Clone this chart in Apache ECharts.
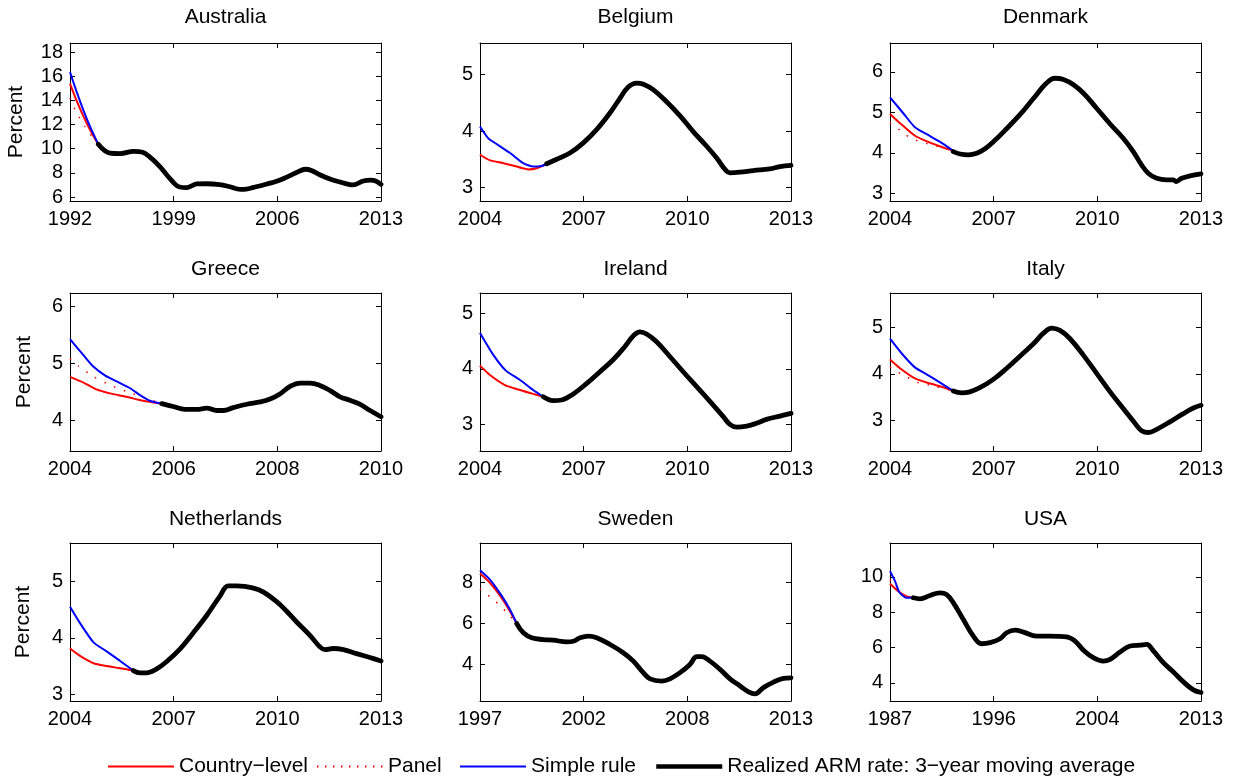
<!DOCTYPE html>
<html><head><meta charset="utf-8">
<script src="https://cdn.jsdelivr.net/npm/echarts@6/dist/echarts.min.js"></script>
<style>html,body{margin:0;padding:0;background:#fff}#c{width:1235px;height:780px}</style>
</head><body><div id="c"></div>
<script>
// ---------- DATA ----------
const countries = ['Australia','Belgium','Denmark','Greece','Ireland','Italy','Netherlands','Sweden','USA'];
const legendNames = ['Country\u2212level','Panel','Simple rule','Realized ARM rate: 3\u2212year moving average'];

const xRanges = [[1992,2013],[2004,2013],[2004,2013],[2004,2010],[2004,2013],[2004,2013],[2004,2013],[1997,2013],[1987,2013]];
const yRanges = [[5.67,18.75],[2.76,5.56],[2.81,6.71],[3.46,6.23],[2.52,5.37],[2.33,5.75],[2.88,5.68],[2.22,9.91],[2.98,11.92]];
const yTicks = [[6,8,10,12,14,16,18],[3,4,5],[3,4,5,6],[4,5,6],[3,4,5],[3,4,5],[3,4,5],[4,6,8],[4,6,8,10]];

// Australia
const ausCountry = [[1992,15.38],[1992.45,13.95],[1992.9,12.7],[1993.4,11.45],[1993.91,10.36]];
const ausPanel = [[1992,14.2],[1992.35,13.2],[1992.65,12.55],[1993.0,11.85],[1993.35,11.25],[1993.91,10.36]];
const ausSimple = [[1992,16.34],[1992.45,14.7],[1992.9,13.2],[1993.4,11.7],[1993.91,10.36]];
const ausReal = [[1993.91,10.36],[1994.7,9.64],[1995.4,9.6],[1996.3,9.78],[1996.9,9.7],[1997.4,9.3],[1998.1,8.48],[1998.75,7.52],[1999.4,6.83],[1999.9,6.78],[2000.55,7.08],[2001.2,7.1],[2002.1,7.03],[2002.8,6.85],[2003.5,6.64],[2003.9,6.66],[2004.4,6.8],[2005.3,7.08],[2006.0,7.33],[2006.6,7.63],[2007.3,8.03],[2007.9,8.3],[2008.3,8.2],[2008.9,7.82],[2009.6,7.47],[2010.2,7.25],[2010.9,7.02],[2011.1,7.0],[2011.8,7.33],[2012.3,7.4],[2012.6,7.35],[2013,7.05]];

// Belgium
const belCountry = [[2004,3.58],[2004.29,3.48],[2004.68,3.43],[2005.06,3.37],[2005.4,3.32],[2005.64,3.34],[2005.93,3.42]];
const belPanel = [[2004,3.58],[2004.29,3.48],[2004.68,3.43],[2005.06,3.37],[2005.4,3.32],[2005.64,3.34],[2005.93,3.42]];
const belSimple = [[2004,4.08],[2004.24,3.87],[2004.48,3.77],[2004.87,3.61],[2005.25,3.43],[2005.54,3.37],[2005.78,3.38],[2005.93,3.42]];
const belReal = [[2005.93,3.42],[2006.22,3.5],[2006.6,3.61],[2006.99,3.79],[2007.38,4.03],[2007.76,4.32],[2008.05,4.58],[2008.29,4.78],[2008.53,4.85],[2008.73,4.83],[2009.02,4.73],[2009.4,4.52],[2009.79,4.27],[2010.17,3.99],[2010.56,3.73],[2010.85,3.52],[2011.09,3.32],[2011.23,3.26],[2011.52,3.27],[2011.91,3.3],[2012.39,3.33],[2012.68,3.37],[2013,3.39]];

// Denmark
const denCountry = [[2004,4.96],[2004.29,4.73],[2004.72,4.42],[2005.16,4.25],[2005.54,4.13],[2005.83,4.05]];
const denPanel = [[2004,4.74],[2004.22,4.6],[2004.46,4.44],[2004.72,4.32],[2004.96,4.25],[2005.25,4.19],[2005.54,4.12],[2005.83,4.05]];
const denSimple = [[2004,5.37],[2004.39,4.97],[2004.72,4.63],[2005.06,4.46],[2005.45,4.27],[2005.83,4.05]];
const denReal = [[2005.83,4.03],[2006.03,3.97],[2006.27,3.95],[2006.51,3.99],[2006.75,4.1],[2006.99,4.27],[2007.38,4.6],[2007.76,4.94],[2008.15,5.34],[2008.53,5.72],[2008.77,5.84],[2009.02,5.81],[2009.31,5.68],[2009.6,5.47],[2009.98,5.1],[2010.37,4.71],[2010.75,4.36],[2011.04,4.03],[2011.28,3.7],[2011.48,3.49],[2011.72,3.37],[2012.0,3.33],[2012.2,3.33],[2012.28,3.29],[2012.44,3.37],[2012.68,3.43],[2013,3.48]];

// Greece
const grcCountry = [[2004,4.76],[2004.26,4.66],[2004.51,4.54],[2004.77,4.47],[2005.09,4.41],[2005.41,4.34],[2005.77,4.29]];
const grcPanel = [[2004,5.08],[2004.16,4.95],[2004.46,4.76],[2004.79,4.61],[2005.13,4.49],[2005.48,4.38],[2005.77,4.29]];
const grcSimple = [[2004,5.42],[2004.26,5.14],[2004.45,4.94],[2004.68,4.78],[2004.9,4.68],[2005.16,4.56],[2005.35,4.44],[2005.54,4.34],[2005.77,4.29]];
const grcReal = [[2005.77,4.29],[2005.99,4.24],[2006.22,4.19],[2006.44,4.19],[2006.64,4.21],[2006.83,4.17],[2006.96,4.17],[2007.15,4.22],[2007.41,4.28],[2007.67,4.32],[2007.86,4.37],[2008.05,4.46],[2008.24,4.59],[2008.44,4.65],[2008.63,4.65],[2008.82,4.61],[2009.02,4.52],[2009.21,4.41],[2009.4,4.35],[2009.59,4.28],[2009.79,4.17],[2010,4.06]];

// Ireland
const irlCountry = [[2004,4.06],[2004.29,3.89],[2004.72,3.71],[2005.16,3.62],[2005.54,3.55],[2005.83,3.5]];
const irlPanel = [[2004,4.06],[2004.29,3.89],[2004.72,3.71],[2005.16,3.62],[2005.54,3.55],[2005.83,3.5]];
const irlSimple = [[2004,4.65],[2004.39,4.25],[2004.75,3.97],[2005.16,3.8],[2005.54,3.62],[2005.83,3.5]];
const irlReal = [[2005.83,3.5],[2006.12,3.43],[2006.36,3.44],[2006.7,3.55],[2007.09,3.74],[2007.47,3.95],[2007.86,4.17],[2008.2,4.41],[2008.44,4.6],[2008.63,4.67],[2008.82,4.63],[2009.11,4.49],[2009.5,4.22],[2009.88,3.95],[2010.27,3.68],[2010.66,3.41],[2011.04,3.14],[2011.23,3.0],[2011.43,2.95],[2011.72,2.97],[2012.0,3.02],[2012.29,3.09],[2012.68,3.15],[2013,3.2]];

// Italy
const itaCountry = [[2004,4.31],[2004.29,4.12],[2004.72,3.9],[2005.16,3.79],[2005.54,3.71],[2005.83,3.63]];
const itaPanel = [[2004,4.15],[2004.24,4.03],[2004.48,3.94],[2004.72,3.83],[2005.01,3.78],[2005.35,3.72],[2005.83,3.63]];
const itaSimple = [[2004,4.76],[2004.34,4.44],[2004.72,4.14],[2005.06,3.99],[2005.45,3.81],[2005.83,3.63]];
const itaReal = [[2005.83,3.63],[2006.07,3.59],[2006.31,3.61],[2006.6,3.7],[2006.99,3.88],[2007.38,4.12],[2007.76,4.38],[2008.15,4.65],[2008.44,4.88],[2008.68,4.99],[2008.92,4.94],[2009.21,4.76],[2009.6,4.4],[2009.98,4.01],[2010.37,3.61],[2010.75,3.25],[2011.09,2.93],[2011.28,2.77],[2011.48,2.73],[2011.72,2.8],[2012.1,2.96],[2012.49,3.14],[2012.78,3.26],[2013,3.32]];

// Netherlands
const nldCountry = [[2004,3.81],[2004.29,3.68],[2004.68,3.55],[2005.06,3.5],[2005.45,3.46],[2005.83,3.42]];
const nldPanel = [[2004,3.81],[2004.29,3.68],[2004.68,3.55],[2005.06,3.5],[2005.45,3.46],[2005.83,3.42]];
const nldSimple = [[2004,4.55],[2004.29,4.26],[2004.68,3.92],[2005.06,3.76],[2005.45,3.59],[2005.83,3.42]];
const nldReal = [[2005.83,3.42],[2006.03,3.38],[2006.22,3.38],[2006.51,3.45],[2006.8,3.58],[2007.18,3.8],[2007.57,4.09],[2007.96,4.4],[2008.34,4.74],[2008.58,4.92],[2008.83,4.92],[2009.31,4.88],[2009.6,4.81],[2009.98,4.64],[2010.27,4.47],[2010.56,4.28],[2010.95,4.04],[2011.23,3.84],[2011.38,3.79],[2011.62,3.81],[2011.91,3.79],[2012.29,3.72],[2012.68,3.65],[2013,3.59]];

// Sweden
const sweCountry = [[1997,8.42],[1997.51,7.97],[1998.11,7.24],[1998.54,6.59],[1998.89,5.99]];
const swePanel = [[1997,7.68],[1997.26,7.48],[1997.65,7.19],[1998.03,6.87],[1998.4,6.51],[1998.89,5.99]];
const sweSimple = [[1997,8.58],[1997.51,8.13],[1998.11,7.35],[1998.54,6.67],[1998.89,5.99]];
const sweReal = [[1998.89,5.99],[1999.23,5.54],[1999.66,5.3],[2000.26,5.21],[2000.77,5.18],[2001.46,5.1],[2001.8,5.13],[2002.15,5.3],[2002.57,5.38],[2003.0,5.3],[2003.69,4.97],[2004.37,4.57],[2004.89,4.16],[2005.4,3.6],[2005.75,3.3],[2006.35,3.19],[2006.78,3.3],[2007.29,3.6],[2007.8,4.0],[2008.15,4.38],[2008.4,4.38],[2008.83,4.16],[2009.35,3.76],[2009.86,3.3],[2010.38,2.95],[2010.81,2.67],[2011.15,2.57],[2011.58,2.87],[2012.1,3.14],[2012.61,3.32],[2013,3.35]];

// USA
const usaCountry = [[1987,9.62],[1987.7,9.19],[1988.34,8.91],[1988.95,8.82]];
const usaPanel = [[1987,9.85],[1987.4,9.4],[1987.8,9.1],[1988.34,8.9],[1988.95,8.82]];
const usaSimple = [[1987,10.32],[1987.42,9.76],[1987.78,9.13],[1988.34,8.82],[1988.95,8.82]];
const usaReal = [[1988.95,8.82],[1989.51,8.76],[1990.34,8.95],[1991.18,9.1],[1991.74,9.0],[1992.3,8.53],[1993.13,7.59],[1993.97,6.65],[1994.66,6.22],[1995.36,6.28],[1996.2,6.5],[1996.75,6.84],[1997.45,6.99],[1998.15,6.88],[1999.26,6.65],[2000.38,6.65],[2001.77,6.61],[2002.47,6.37],[2003.16,5.86],[2004.0,5.43],[2004.84,5.24],[2005.4,5.34],[2006.23,5.75],[2007.07,6.09],[2007.9,6.14],[2008.46,6.18],[2009.02,5.81],[2009.85,5.15],[2010.69,4.62],[2011.53,4.06],[2012.36,3.61],[2013,3.46]];

const countryLevel = [ausCountry,belCountry,denCountry,grcCountry,irlCountry,itaCountry,nldCountry,sweCountry,usaCountry];
const panelRule = [ausPanel,belPanel,denPanel,grcPanel,irlPanel,itaPanel,nldPanel,swePanel,usaPanel];
const simpleRule = [ausSimple,belSimple,denSimple,grcSimple,irlSimple,itaSimple,nldSimple,sweSimple,usaSimple];
const realized = [ausReal,belReal,denReal,grcReal,irlReal,itaReal,nldReal,sweReal,usaReal];

// ---------- LAYOUT ----------
const FONT = 'Liberation Sans, Arial, Helvetica, sans-serif';
const colLeft = [70, 480, 890];
const rowTop = [43, 293, 543];
const W = 311, H = 158;
const titleTop = [7, 259, 509];
const nameGaps = [43, 0, 0, 35, 0, 0, 36, 0, 0];

const grids = [], xAxes = [], yAxes = [], titles = [], series = [];
const axisLineStyle = {show: true, lineStyle: {color: '#000', width: 1}};

countries.forEach((name, i) => {
  const r = Math.floor(i / 3), c = i % 3;
  grids.push({left: colLeft[c], top: rowTop[r], width: W, height: H, containLabel: false});
  titles.push({text: name, left: colLeft[c] + W / 2, top: titleTop[r], textAlign: 'center', padding: 0,
    textStyle: {fontFamily: FONT, fontSize: 21, fontWeight: 'normal', color: '#000'}});
  const [x0, x1] = xRanges[i];
  const span = x1 - x0;
  const xt = [x0, x0 + span / 3, x0 + 2 * span / 3, x1];
  xAxes.push({type: 'value', gridIndex: i, position: 'bottom', min: x0, max: x1,
    axisLine: axisLineStyle, splitLine: {show: false},
    axisTick: {show: true, inside: true, length: 5, customValues: xt, lineStyle: {color: '#000'}},
    axisLabel: {show: true, customValues: xt, margin: 8, fontFamily: FONT, fontSize: 20, color: '#000',
      formatter: v => String(Math.round(v))}});
  xAxes.push({type: 'value', gridIndex: i, position: 'top', min: x0, max: x1,
    axisLine: axisLineStyle, splitLine: {show: false},
    axisTick: {show: true, inside: true, length: 5, customValues: xt, lineStyle: {color: '#000'}},
    axisLabel: {show: false}});
  const [y0, y1] = yRanges[i];
  const yl = {type: 'value', gridIndex: i, position: 'left', min: y0, max: y1,
    axisLine: axisLineStyle, splitLine: {show: false},
    axisTick: {show: true, inside: true, length: 5, customValues: yTicks[i], lineStyle: {color: '#000'}},
    axisLabel: {show: true, customValues: yTicks[i], margin: 7, fontFamily: FONT, fontSize: 20, color: '#000'}};
  if (c === 0) {
    yl.name = 'Percent'; yl.nameLocation = 'middle'; yl.nameGap = nameGaps[i];
    yl.nameTextStyle = {fontFamily: FONT, fontSize: 21, color: '#000'};
  }
  yAxes.push(yl);
  yAxes.push({type: 'value', gridIndex: i, position: 'right', min: y0, max: y1,
    axisLine: axisLineStyle, splitLine: {show: false},
    axisTick: {show: true, inside: true, length: 5, customValues: yTicks[i], lineStyle: {color: '#000'}},
    axisLabel: {show: false}});
  const xi = 2 * i, yi = 2 * i;
  series.push({name: legendNames[0], type: 'line', xAxisIndex: xi, yAxisIndex: yi, data: countryLevel[i],
    symbol: 'none', smooth: 0.2, lineStyle: {color: '#ff0000', width: 2}, itemStyle: {color: '#ff0000'}, z: 2});
  series.push({name: legendNames[1], type: 'line', xAxisIndex: xi, yAxisIndex: yi, data: panelRule[i],
    symbol: 'none', smooth: 0.2, lineStyle: {color: '#ff0000', width: 1.5, type: [1.5, 9]}, itemStyle: {color: '#ff0000'}, z: 3});
  series.push({name: legendNames[2], type: 'line', xAxisIndex: xi, yAxisIndex: yi, data: simpleRule[i],
    symbol: 'none', smooth: 0.2, lineStyle: {color: '#0000ff', width: 2}, itemStyle: {color: '#0000ff'}, z: 4});
  series.push({name: legendNames[3], type: 'line', xAxisIndex: xi, yAxisIndex: yi, data: realized[i],
    symbol: 'none', smooth: 0.4, lineStyle: {color: '#000', width: 4.8, join: 'round', cap: 'round'}, itemStyle: {color: '#000'}, z: 5});
});

const legendLefts = [107, 316, 459, 654];
const legends = legendNames.map((n, k) => {
  const lg = {data: [n], left: legendLefts[k], top: 756, orient: 'horizontal', itemWidth: 66, itemHeight: 14,
    itemGap: 0, padding: 0, selectedMode: false,
    itemStyle: {color: 'rgba(0,0,0,0)', borderColor: 'rgba(0,0,0,0)', borderWidth: 0, opacity: 0},
    textStyle: {fontFamily: FONT, fontSize: 21, color: '#000'}};
  if (k === 1) lg.lineStyle = {type: [1.5, 6.5]};
  if (k === 3) lg.lineStyle = {width: 4.5, cap: 'butt'};
  return lg;
});

const chart = echarts.init(document.getElementById('c'), null, {renderer: 'canvas'});
chart.setOption({
  animation: false, backgroundColor: '#fff',
  title: titles, grid: grids, xAxis: xAxes, yAxis: yAxes, legend: legends, series: series
});
</script></body></html>
